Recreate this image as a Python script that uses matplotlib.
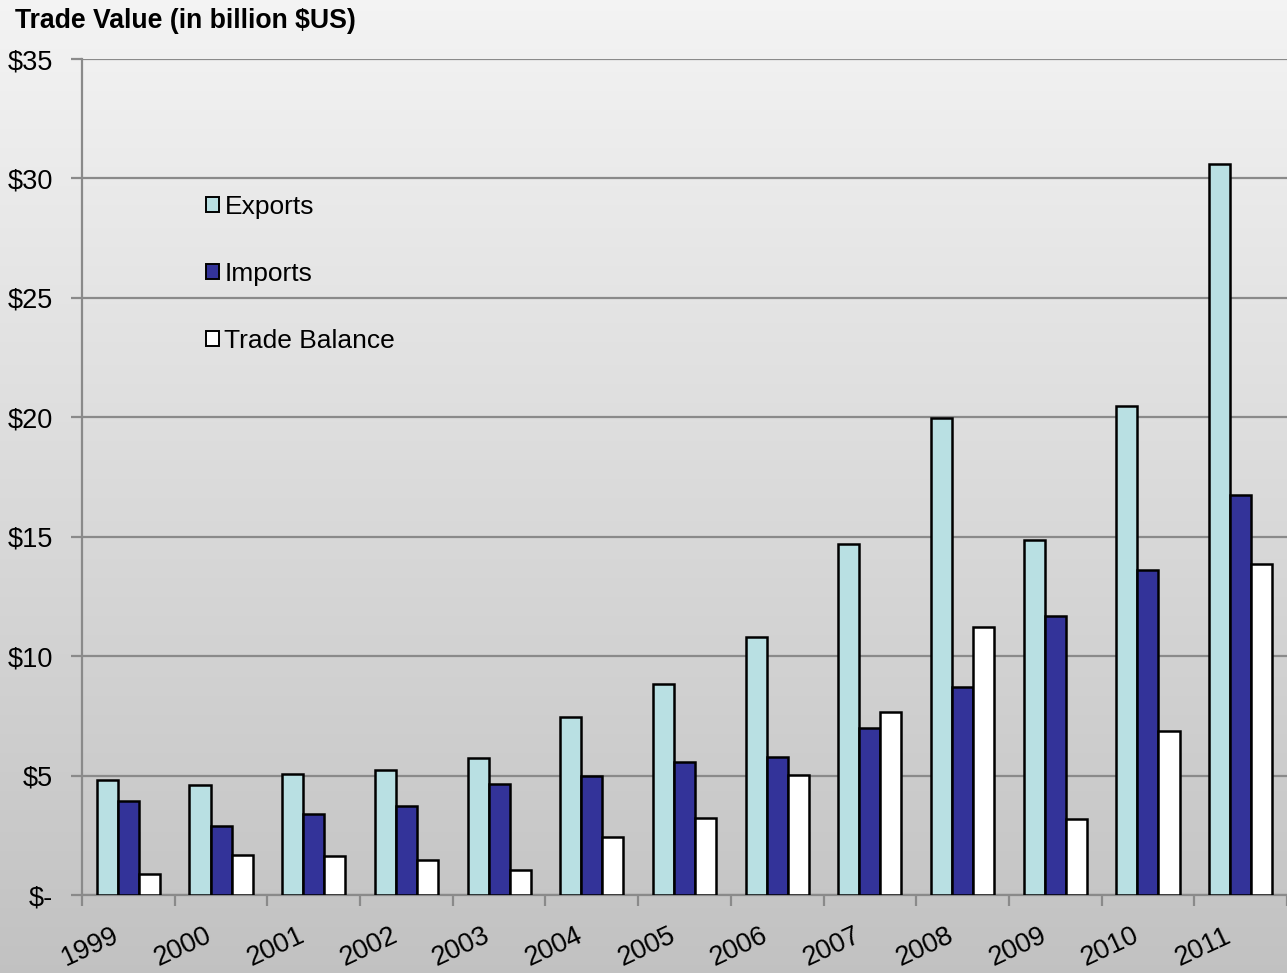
import numpy as np
import matplotlib
matplotlib.use("Agg")
import matplotlib.pyplot as plt
import matplotlib.transforms as mtransforms
from matplotlib.patches import Patch

years = ["1999", "2000", "2001", "2002", "2003", "2004", "2005",
         "2006", "2007", "2008", "2009", "2010", "2011"]
exports = [4.81, 4.61, 5.07, 5.23, 5.74, 7.45, 8.83, 10.8, 14.7, 19.97, 14.86, 20.47, 30.6]
imports = [3.94, 2.89, 3.39, 3.73, 4.65, 4.98, 5.57, 5.78, 6.99, 8.71, 11.68, 13.6, 16.75]
trade_balance = [0.88, 1.67, 1.63, 1.47, 1.05, 2.43, 3.22, 5.02, 7.66, 11.22, 3.18, 6.87, 13.86]
series_names = ["Exports", "Imports", "Trade Balance"]
series_colors = ["#b9e0e3", "#333399", "#ffffff"]
y_ticks = [0, 5, 10, 15, 20, 25, 30, 35]
y_tick_labels = ["$-", "$5", "$10", "$15", "$20", "$25", "$30", "$35"]

plt.rcParams["font.family"] = ["Liberation Sans", "DejaVu Sans"]

W, H = 1287, 973
fig = plt.figure(figsize=(W / 100, H / 100), dpi=100)

# vertical grey gradient behind everything
bg = fig.add_axes([0, 0, 1, 1], zorder=-10)
grad = np.linspace(0.955, 0.76, 256).reshape(-1, 1)
bg.imshow(np.dstack([grad, grad, grad]), aspect="auto", extent=[0, 1, 0, 1],
          origin="upper")
bg.set_axis_off()

ax = fig.add_axes([82 / W, 1 - 895 / H, 1 - 82 / W, (895 - 59) / H])
ax.patch.set_alpha(0)

n = len(years)
x = np.arange(n)
w = 0.227
for j, (vals, col) in enumerate(zip([exports, imports, trade_balance], series_colors)):
    ax.bar(x + (j - 1) * w, vals, width=w, color=col, edgecolor="black",
           linewidth=1.8, zorder=3, label=series_names[j])

ax.set_xlim(-0.5, n - 0.5)
ax.set_ylim(0, 35)
ax.set_yticks(y_ticks)
ax.set_yticklabels(y_tick_labels, fontsize=19.5)
ax.yaxis.grid(True, color="#8a8a8a", linewidth=1.6, zorder=1)
ax.set_axisbelow(True)

for s in ["top", "right"]:
    ax.spines[s].set_visible(False)
for s in ["left", "bottom"]:
    ax.spines[s].set_color("#8a8a8a")
    ax.spines[s].set_linewidth(1.6)

ax.tick_params(axis="y", length=8, width=1.6, color="#8a8a8a", pad=13)

# labels centred on categories, tick marks on category boundaries
ax.set_xticks(x)
ax.set_xticklabels(years, fontsize=19.5, rotation=25, ha="right",
                   rotation_mode="anchor")
ax.tick_params(axis="x", which="major", length=0, pad=20)
ax.set_xticks(np.arange(n + 1) - 0.5, minor=True)
ax.tick_params(axis="x", which="minor", length=8, width=1.6, color="#8a8a8a")
offset = mtransforms.ScaledTranslation(-16 / 100, 0, fig.dpi_scale_trans)
for lbl in ax.get_xticklabels():
    lbl.set_transform(lbl.get_transform() + offset)

fig.text(15 / W, 1 - 21 / H, "Trade Value (in billion $US)", fontsize=19.2,
         fontweight="bold", va="center", ha="left")

handles = [Patch(facecolor=c, edgecolor="black", linewidth=1.4) for c in series_colors]
ax.legend(handles, series_names, loc="upper left",
          bbox_to_anchor=(206 / W, 1 - 195 / H), bbox_transform=fig.transFigure,
          frameon=False, fontsize=19, handlelength=0.5, handleheight=0.5,
          handletextpad=0.2, labelspacing=1.62, borderpad=0, borderaxespad=0)

fig.savefig("out.png", dpi=100)
